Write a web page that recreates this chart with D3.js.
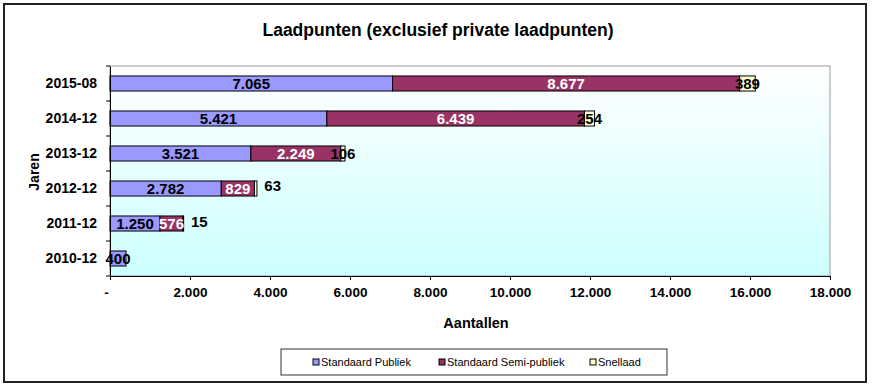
<!DOCTYPE html>
<html><head><meta charset="utf-8">
<script src="https://cdn.jsdelivr.net/npm/d3@7"></script>
<style>
html,body{margin:0;padding:0;background:#fff;}
svg{display:block;font-family:"Liberation Sans",Arial,sans-serif;}
</style></head>
<body>
<script>
const categories = ["2015-08","2014-12","2013-12","2012-12","2011-12","2010-12"];
const publiek     = [7065, 5421, 3521, 2782, 1250, 400];
const semiPubliek = [8677, 6439, 2249, 829, 576, 0];
const snellaad    = [389, 254, 106, 63, 15, 0];
const seriesNames = ["Standaard Publiek","Standaard Semi-publiek","Snellaad"];
const seriesColors = ["#9999ff","#993366","#ffffcc"];
const labelColors = ["#000","#fff","#000"];
const xTicks = [0,2000,4000,6000,8000,10000,12000,14000,16000,18000];
const xTickLabels = ["-","2.000","4.000","6.000","8.000","10.000","12.000","14.000","16.000","18.000"];
// manual label nudges (px) for the Snellaad labels, as in the original
const snelLabelDx = [0,0,0,17,16,0];
const snelLabelDy = [0,0,0,-3,-2,0];

const W=874,H=388;
const svg=d3.select("body").append("svg").attr("width",W).attr("height",H);
const nl = d3.formatLocale({decimal:",",thousands:".",grouping:[3],currency:["",""]});
const fmt = nl.format(",d");

// outer frame
svg.append("rect").attr("x",4).attr("y",4).attr("width",862).attr("height",378)
  .attr("fill","#fff").attr("stroke","#222").attr("stroke-width",2);

svg.append("text").attr("x",438).attr("y",36).attr("text-anchor","middle")
  .attr("font-size",17.5).attr("font-weight","bold").attr("fill","#000")
  .text("Laadpunten (exclusief private laadpunten)");

const L=110,R=830,T=66,B=276;
const x=d3.scaleLinear().domain([0,18000]).range([L,R]);
const y=d3.scaleBand().domain(categories).range([T,B]).paddingInner(0.57).paddingOuter(0.285);

const defs=svg.append("defs");
const g=defs.append("linearGradient").attr("id","bg").attr("x1",0).attr("y1",0).attr("x2",0).attr("y2",1);
g.append("stop").attr("offset","0%").attr("stop-color","#ffffff");
g.append("stop").attr("offset","100%").attr("stop-color","#ccffff");

svg.append("rect").attr("x",L).attr("y",T).attr("width",R-L).attr("height",B-T)
  .attr("fill","url(#bg)").attr("stroke","#999").attr("stroke-width",1);

const stackData = categories.map((c,i)=>({cat:c, s0:publiek[i], s1:semiPubliek[i], s2:snellaad[i]}));
const stack=d3.stack().keys(["s0","s1","s2"])(stackData);

stack.forEach((layer,si)=>{
  const gg=svg.append("g");
  gg.selectAll("rect").data(layer.filter(d=>d[1]-d[0]>0)).join("rect")
    .attr("x",d=>x(d[0])).attr("y",d=>y(d.data.cat))
    .attr("width",d=>x(d[1])-x(d[0])).attr("height",y.bandwidth())
    .attr("fill",seriesColors[si]).attr("stroke","#000").attr("stroke-width",1);
});
stack.forEach((layer,si)=>{
  const gg=svg.append("g");
  layer.forEach((d,ri)=>{
    const v=d[1]-d[0]; if(v<=0) return;
    const dx = si===2 ? snelLabelDx[ri] : 0;
    const dy = si===2 ? snelLabelDy[ri] : 0;
    gg.append("text").attr("x",(x(d[0])+x(d[1]))/2+dx).attr("y",y(d.data.cat)+y.bandwidth()/2+dy)
      .attr("dy","0.36em").attr("text-anchor","middle").attr("font-size",15).attr("font-weight","bold")
      .attr("fill",labelColors[si]).text(fmt(v));
  });
});

// axes
const xa=svg.append("g").attr("transform",`translate(0,${B})`)
  .call(d3.axisBottom(x).tickValues(xTicks).tickSize(4).tickFormat((d,i)=>xTickLabels[i]));
xa.select(".domain").attr("stroke","#000");
xa.selectAll(".tick line").attr("stroke","#000");
xa.selectAll("text").attr("font-size",13.5).attr("font-weight","bold").attr("fill","#000")
  .attr("font-family","'Liberation Sans',Arial,sans-serif").attr("dy","1.0em");
xa.selectAll(".tick text").filter((d,i)=>i===0).attr("dx",-4);

const ya=svg.append("g").attr("transform",`translate(${L},0)`)
  .call(d3.axisLeft(y).tickSize(0).tickPadding(13));
ya.select(".domain").attr("stroke","#000");
ya.selectAll("text").attr("font-size",14).attr("font-weight","bold").attr("fill","#000")
  .attr("font-family","'Liberation Sans',Arial,sans-serif");
// category separator ticks
const bounds=d3.range(categories.length+1).map(i=>T+i*(B-T)/categories.length);
svg.append("g").selectAll("line").data(bounds).join("line")
  .attr("x1",L-4).attr("x2",L).attr("y1",d=>d).attr("y2",d=>d).attr("stroke","#000");

svg.append("text").attr("x",476).attr("y",328).attr("text-anchor","middle")
  .attr("font-size",14.5).attr("font-weight","bold").text("Aantallen");
svg.append("text").attr("transform","translate(39,172) rotate(-90)").attr("text-anchor","middle")
  .attr("font-size",14).attr("font-weight","bold").text("Jaren");

// legend
const lg=svg.append("g");
lg.append("rect").attr("x",281).attr("y",349).attr("width",386).attr("height",26)
  .attr("fill","#fff").attr("stroke","#333").attr("stroke-width",1);
const legX=[313,439,590];
seriesNames.forEach((n,i)=>{
  lg.append("rect").attr("x",legX[i]).attr("y",359).attr("width",6).attr("height",6)
    .attr("fill",seriesColors[i]).attr("stroke","#000").attr("stroke-width",1);
  lg.append("text").attr("x",legX[i]+8).attr("y",366).attr("fill","#000")
    .attr("font-family","'Liberation Sans',Arial,sans-serif").attr("font-size",11).text(n);
});
</script>
</body></html>
